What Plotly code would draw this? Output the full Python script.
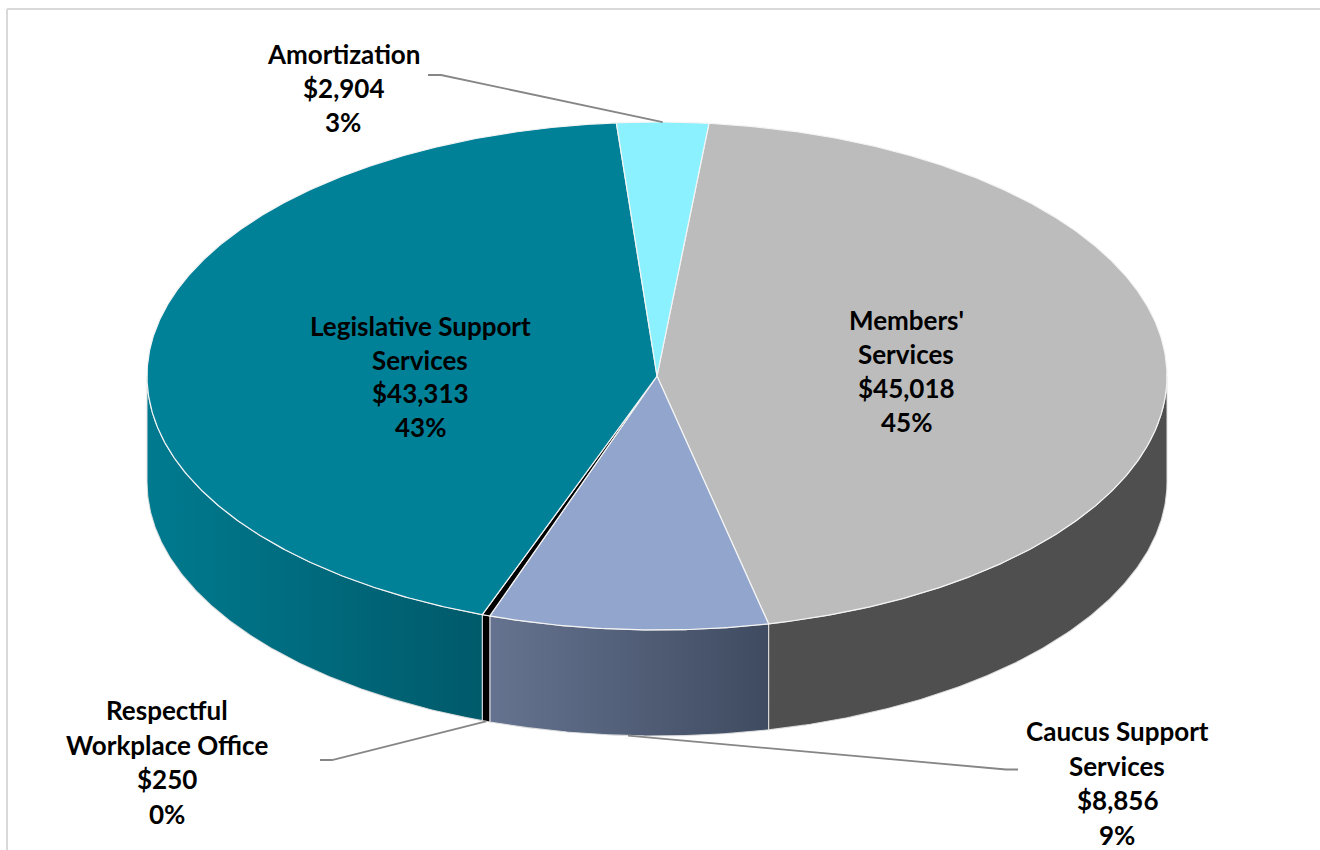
import numpy as np
import plotly.graph_objects as go

# Budget by program area, in slice order clockwise
categories = ["Members' Services", "Caucus Support Services", "Respectful Workplace Office",
              "Legislative Support Services", "Amortization"]
values = [45018, 8856, 250, 43313, 2904]
top_colors = ["#BCBCBC", "#92A5CC", "#000000", "#008198", "#8CF1FF"]
# Horizontal shading of the rim: colour at the left and right end of each wedge
rim_colors = [("#4F4F4F", "#4F4F4F"), ("#667390", "#3F4B60"), ("#000000", "#000000"),
              ("#007A8F", "#005A6A"), ("#8CF1FF", "#8CF1FF")]
# Wrapped label text and the centre / first-line position of each label
label_lines = [["Members'", "Services"], ["Caucus Support", "Services"],
               ["Respectful", "Workplace Office"], ["Legislative Support", "Services"],
               ["Amortization"]]
label_x = [906, 1117, 167, 420, 343]
label_y = [320, 731, 710, 326, 54]
label_step = [34, 34.6, 34.6, 33.7, 33.8]

# Leader elbows for the labels placed outside the pie: (label end, bend)
leaders = {1: ((1018, 769.5), (1006, 769.5)),
           2: ((320, 760), (332, 760)),
           4: ((428, 75), (441, 75))}

# Projection of the tilted disc
CX, CY, RX, RY, DEPTH = 657, 376, 510, 254, 106
START_DEG = 5.85


def px(t):
    return CX + RX * np.sin(np.radians(t))


def py(t, drop=0):
    return CY - RY * np.cos(np.radians(t)) + drop


total = sum(values)
sweeps = [v / total * 360 for v in values]
edges = START_DEG + np.concatenate([[0], np.cumsum(sweeps)])

fig = go.Figure()

# Rim: only the part of each wedge facing the viewer (90 to 270 degrees)
for i in range(len(values)):
    a, b = max(edges[i], 90), min(edges[i + 1], 270)
    if a >= b:
        continue
    t = np.linspace(a, b, 160)
    xs = np.concatenate([px(t), px(t[::-1])])
    ys = np.concatenate([py(t), py(t[::-1], DEPTH)])
    xs = np.append(xs, xs[0])
    ys = np.append(ys, ys[0])
    left_c, right_c = rim_colors[i]
    fig.add_trace(go.Scatter(
        x=xs, y=ys, mode="lines", fill="toself",
        fillgradient=dict(type="horizontal",
                          colorscale=[[0, left_c], [1, right_c]]),
        line=dict(color="rgba(225,225,225,0.9)", width=1.1),
        hoverinfo="skip", showlegend=False))

# Top face of each wedge
for i in range(len(values)):
    t = np.linspace(edges[i], edges[i + 1], max(8, int(sweeps[i] * 3)))
    xs = np.concatenate([[CX], px(t), [CX]])
    ys = np.concatenate([[CY], py(t), [CY]])
    fig.add_trace(go.Scatter(
        x=xs, y=ys, mode="lines", fill="toself", fillcolor=top_colors[i],
        line=dict(color="#F4F4F4", width=1.2),
        name=categories[i], hoverinfo="skip", showlegend=False))

# Leader lines run from the label to the middle of the wedge
for i, (start, bend) in leaders.items():
    mid = (edges[i] + edges[i + 1]) / 2
    front = 90 < mid < 270
    fig.add_trace(go.Scatter(
        x=[start[0], bend[0], px(mid)],
        y=[start[1], bend[1], py(mid, DEPTH if front else 0)],
        mode="lines", line=dict(color="#868686", width=1.8),
        hoverinfo="skip", showlegend=False))

# Data labels: name, amount, share, one annotation per line
annotations = []
for i in range(len(values)):
    lines = label_lines[i] + [f"${values[i]:,}", f"{values[i] / total * 100:.0f}%"]
    for k, text in enumerate(lines):
        annotations.append(dict(
            x=label_x[i], y=label_y[i] + k * label_step[i], text=text,
            xref="x", yref="y", showarrow=False, xanchor="center", yanchor="middle",
            font=dict(family="Lato", size=26, color="#000000", weight=700)))

# Chart frame, open towards the right and bottom of the page
frame_color = "#D9D9D9"
shapes = [
    dict(type="line", x0=7, y0=9, x1=1320, y1=9, line=dict(color=frame_color, width=2)),
    dict(type="line", x0=7, y0=9, x1=7, y1=850, line=dict(color=frame_color, width=2)),
]

fig.update_layout(
    width=1320, height=850,
    margin=dict(l=0, r=0, t=0, b=0),
    paper_bgcolor="#FFFFFF", plot_bgcolor="#FFFFFF",
    xaxis=dict(range=[0, 1320], visible=False, fixedrange=True),
    yaxis=dict(range=[850, 0], visible=False, fixedrange=True),
    annotations=annotations, shapes=shapes,
    hovermode=False,
)

fig.write_html("out.html", config={"displayModeBar": False})
